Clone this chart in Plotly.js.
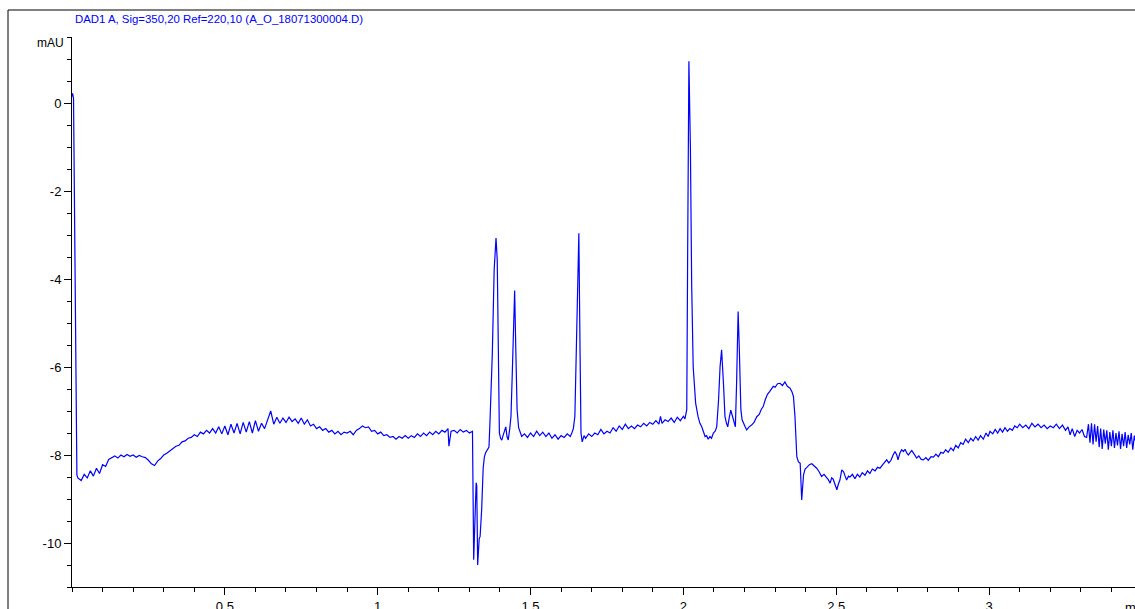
<!DOCTYPE html>
<html>
<head>
<meta charset="utf-8">
<script src="https://cdn.plot.ly/plotly-3.0.1.min.js"></script>
<style>
html,body{margin:0;padding:0;background:#fff;overflow:hidden;}
#chart{width:1135px;height:609px;}
</style>
</head>
<body>
<div id="chart"></div>
<script>
// Retention time (min)
const timeMin = [
0, 0.002, 0.005, 0.009, 0.013, 0.016, 0.019, 0.03, 0.04, 0.05,
0.06, 0.07, 0.08, 0.09, 0.10, 0.11, 0.12, 0.13, 0.14, 0.15,
0.16, 0.17, 0.18, 0.19, 0.20, 0.21, 0.22, 0.23, 0.24, 0.25,
0.26, 0.27, 0.28, 0.29, 0.30, 0.31, 0.32, 0.33, 0.34, 0.35,
0.36, 0.37, 0.38, 0.39, 0.40, 0.41, 0.42, 0.43, 0.44, 0.45,
0.46, 0.47, 0.48, 0.49, 0.50, 0.51, 0.52, 0.53, 0.54, 0.55,
0.56, 0.57, 0.58, 0.59, 0.60, 0.61, 0.62, 0.63, 0.64, 0.65,
0.66, 0.67, 0.68, 0.69, 0.70, 0.71, 0.72, 0.73, 0.74, 0.75,
0.76, 0.77, 0.78, 0.79, 0.80, 0.81, 0.82, 0.83, 0.84, 0.85,
0.86, 0.87, 0.88, 0.89, 0.90, 0.91, 0.92, 0.93, 0.94, 0.95,
0.96, 0.97, 0.98, 0.99, 1.00, 1.01, 1.02, 1.03, 1.04, 1.05,
1.06, 1.07, 1.08, 1.09, 1.10, 1.11, 1.12, 1.13, 1.14, 1.15,
1.16, 1.17, 1.18, 1.19, 1.20, 1.21, 1.22, 1.23, 1.233, 1.24,
1.25, 1.26, 1.27, 1.28, 1.29, 1.30, 1.31, 1.314, 1.322, 1.324,
1.327, 1.332, 1.335, 1.340, 1.345, 1.349, 1.353, 1.357, 1.361, 1.364,
1.367, 1.371, 1.375, 1.381, 1.387, 1.391, 1.395, 1.398, 1.402, 1.406,
1.41, 1.415, 1.419, 1.423, 1.427, 1.432, 1.436, 1.440, 1.444, 1.448,
1.452, 1.456, 1.461, 1.466, 1.471, 1.48, 1.49, 1.50, 1.51, 1.52,
1.53, 1.54, 1.55, 1.56, 1.57, 1.58, 1.59, 1.60, 1.61, 1.62,
1.63, 1.635, 1.64, 1.645, 1.651, 1.658, 1.662, 1.665, 1.669, 1.675,
1.68, 1.69, 1.70, 1.71, 1.72, 1.73, 1.74, 1.75, 1.76, 1.77,
1.78, 1.79, 1.80, 1.81, 1.82, 1.83, 1.84, 1.85, 1.86, 1.87,
1.88, 1.89, 1.90, 1.91, 1.92, 1.925, 1.93, 1.94, 1.95, 1.96,
1.97, 1.98, 1.99, 2.00, 2.005, 2.011, 2.014, 2.018, 2.023, 2.027,
2.032, 2.040, 2.048, 2.054, 2.060, 2.065, 2.071, 2.076, 2.081, 2.087,
2.092, 2.098, 2.104, 2.109, 2.115, 2.120, 2.125, 2.131, 2.136, 2.141,
2.145, 2.150, 2.155, 2.161, 2.166, 2.170, 2.174, 2.179, 2.183, 2.188,
2.192, 2.196, 2.202, 2.207, 2.215, 2.223, 2.231, 2.240, 2.248, 2.255,
2.261, 2.268, 2.275, 2.282, 2.288, 2.294, 2.300, 2.308, 2.316, 2.324,
2.332, 2.340, 2.349, 2.355, 2.360, 2.365, 2.371, 2.376, 2.382, 2.387,
2.393, 2.398, 2.404, 2.412, 2.420, 2.428, 2.436, 2.444, 2.452, 2.460,
2.468, 2.474, 2.480, 2.485, 2.490, 2.496, 2.502, 2.507, 2.512, 2.518,
2.524, 2.529, 2.534, 2.540, 2.545, 2.553, 2.561, 2.569, 2.577, 2.585,
2.594, 2.602, 2.610, 2.618, 2.627, 2.635, 2.643, 2.654, 2.665, 2.672,
2.679, 2.686, 2.692, 2.698, 2.702, 2.708, 2.714, 2.720, 2.725, 2.731,
2.736, 2.742, 2.747, 2.755, 2.763, 2.770, 2.778, 2.785, 2.793, 2.801,
2.810, 2.818, 2.826, 2.834, 2.842, 2.850, 2.858, 2.866, 2.875, 2.883,
2.891, 2.899, 2.907, 2.915, 2.923, 2.932, 2.940, 2.948, 2.956, 2.964,
2.972, 2.981, 2.990, 2.997, 3.003, 3.012, 3.020, 3.028, 3.036, 3.044,
3.052, 3.060, 3.068, 3.076, 3.084, 3.092, 3.100, 3.110, 3.120, 3.130,
3.140, 3.150, 3.160, 3.170, 3.180, 3.190, 3.200, 3.210, 3.220, 3.230,
3.240, 3.250, 3.258, 3.265, 3.272, 3.280, 3.288, 3.296, 3.304, 3.312,
3.319, 3.325, 3.330, 3.335, 3.340, 3.345, 3.350, 3.355, 3.360, 3.365,
3.370, 3.375, 3.380, 3.385, 3.390, 3.395, 3.400, 3.405, 3.410, 3.415,
3.420, 3.425, 3.430, 3.435, 3.440, 3.445, 3.450, 3.455, 3.460, 3.465,
3.470, 3.475, 3.480
];

// Detector signal (mAU)
const signalMAU = [
0.15, 0.22, 0.10, -3.0, -7.5, -8.45, -8.52, -8.58, -8.44, -8.52,
-8.36, -8.48, -8.30, -8.42, -8.22, -8.26, -8.10, -8.06, -8.02, -8.07,
-8.00, -8.04, -7.99, -8.03, -8.00, -8.05, -8.01, -8.04, -8.06, -8.12,
-8.20, -8.24, -8.14, -8.08, -8.00, -7.96, -7.90, -7.86, -7.80, -7.78,
-7.70, -7.68, -7.62, -7.60, -7.54, -7.58, -7.48, -7.52, -7.44, -7.50,
-7.40, -7.50, -7.36, -7.52, -7.34, -7.54, -7.30, -7.50, -7.28, -7.52,
-7.26, -7.48, -7.24, -7.50, -7.22, -7.46, -7.28, -7.40, -7.20, -7.00,
-7.30, -7.14, -7.28, -7.16, -7.26, -7.14, -7.24, -7.18, -7.28, -7.16,
-7.30, -7.20, -7.34, -7.30, -7.40, -7.36, -7.44, -7.40, -7.48, -7.44,
-7.52, -7.46, -7.54, -7.48, -7.50, -7.46, -7.54, -7.44, -7.40, -7.34,
-7.38, -7.36, -7.46, -7.44, -7.52, -7.48, -7.56, -7.54, -7.60, -7.58,
-7.64, -7.58, -7.62, -7.56, -7.62, -7.56, -7.60, -7.52, -7.58, -7.50,
-7.56, -7.48, -7.54, -7.46, -7.52, -7.44, -7.48, -7.40, -7.80, -7.46,
-7.44, -7.50, -7.42, -7.48, -7.44, -7.50, -7.46, -10.38, -8.63, -8.70,
-10.5, -9.9, -9.85, -9.25, -8.3, -8.04, -7.95, -7.90, -7.88, -7.82,
-7.3, -6.6, -5.68, -3.79, -3.07, -3.56, -6.44, -7.5, -7.62, -7.66,
-7.56, -7.46, -7.36, -7.58, -7.66, -7.40, -7.12, -6.2, -4.93, -4.26,
-5.68, -6.97, -7.38, -7.50, -7.58, -7.52, -7.60, -7.50, -7.58, -7.46,
-7.56, -7.48, -7.58, -7.50, -7.62, -7.54, -7.64, -7.56, -7.60, -7.52,
-7.58, -7.50, -7.40, -7.12, -4.93, -2.96, -5.68, -7.5, -7.70, -7.56,
-7.62, -7.52, -7.58, -7.50, -7.54, -7.42, -7.52, -7.46, -7.50, -7.38,
-7.46, -7.34, -7.42, -7.30, -7.40, -7.34, -7.40, -7.32, -7.36, -7.28,
-7.34, -7.26, -7.30, -7.22, -7.30, -7.12, -7.28, -7.20, -7.24, -7.16,
-7.26, -7.14, -7.22, -7.12, -7.18, -6.97, -3.33, 0.95, -1.06, -4.09,
-5.99, -6.82, -7.13, -7.28, -7.36, -7.46, -7.58, -7.56, -7.64, -7.58,
-7.62, -7.50, -7.46, -7.36, -6.75, -5.99, -5.61, -6.37, -7.13, -7.28,
-7.36, -7.15, -6.98, -7.13, -7.24, -7.36, -6.37, -4.74, -5.61, -6.97,
-7.20, -7.28, -7.36, -7.43, -7.36, -7.32, -7.26, -7.13, -7.08, -6.96,
-6.90, -6.74, -6.62, -6.56, -6.50, -6.44, -6.46, -6.38, -6.37, -6.42,
-6.34, -6.44, -6.48, -6.56, -6.67, -7.13, -8.04, -8.15, -8.19, -9.02,
-8.45, -8.32, -8.28, -8.22, -8.20, -8.24, -8.30, -8.38, -8.49, -8.44,
-8.50, -8.56, -8.64, -8.52, -8.55, -8.66, -8.79, -8.66, -8.57, -8.34,
-8.38, -8.48, -8.57, -8.48, -8.50, -8.44, -8.54, -8.44, -8.50, -8.40,
-8.46, -8.36, -8.42, -8.32, -8.36, -8.28, -8.30, -8.20, -8.11, -8.18,
-8.12, -8.00, -7.92, -8.00, -8.11, -7.96, -7.88, -7.92, -7.87, -7.96,
-8.00, -7.94, -7.90, -7.98, -8.07, -8.02, -8.10, -8.11, -8.06, -8.12,
-8.04, -8.05, -7.98, -8.04, -7.94, -7.96, -7.88, -7.94, -7.84, -7.90,
-7.78, -7.84, -7.72, -7.76, -7.64, -7.72, -7.62, -7.68, -7.58, -7.66,
-7.56, -7.64, -7.50, -7.58, -7.46, -7.52, -7.42, -7.50, -7.40, -7.48,
-7.38, -7.46, -7.40, -7.44, -7.34, -7.38, -7.30, -7.38, -7.32, -7.40,
-7.28, -7.36, -7.30, -7.38, -7.32, -7.40, -7.34, -7.38, -7.30, -7.40,
-7.32, -7.44, -7.36, -7.54, -7.40, -7.58, -7.44, -7.50, -7.42, -7.58,
-7.60, -7.30, -7.72, -7.28, -7.76, -7.30, -7.70, -7.34, -7.82, -7.40,
-7.86, -7.42, -7.74, -7.44, -7.88, -7.48, -7.80, -7.44, -7.84, -7.50,
-7.78, -7.46, -7.86, -7.52, -7.80, -7.48, -7.84, -7.54, -7.76, -7.50,
-7.88, -7.56, -7.72
];

const xTickVals = [0.5, 1, 1.5, 2, 2.5, 3];
const xTickText = ["0.5", "1", "1.5", "2", "2.5", "3"];
const yTickVals = [-10, -8, -6, -4, -2, 0];
const yTickText = ["-10", "-8", "-6", "-4", "-2", "0"];
const signalTitle = "DAD1 A, Sig=350,20 Ref=220,10 (A_O_18071300004.D)";
const yUnit = "mAU";
const xUnit = "min";

const W = 1135, H = 609;
const mL = 72, mR = 0, mT = 37, mB = 22;
const pw = W - mL - mR, ph = H - mT - mB;
const px = v => (v - mL) / pw;          // pixel x -> paper x
const py = v => (H - mB - v) / ph;      // pixel y -> paper y

const trace = {
  x: timeMin, y: signalMAU, type: 'scatter', mode: 'lines',
  line: {color: 'rgb(0,0,255)', width: 1.2},
  hoverinfo: 'x+y', showlegend: false
};

const axisFont = {family: 'Liberation Sans, Arial, sans-serif', size: 13, color: '#000'};

const layout = {
  width: W, height: H,
  margin: {l: mL, r: mR, t: mT, b: mB, pad: 0},
  paper_bgcolor: '#fff', plot_bgcolor: '#fff',
  showlegend: false,
  font: axisFont,
  xaxis: {
    range: [0, (W - mL) / 305.7],
    tickmode: 'array', tickvals: xTickVals, ticktext: xTickText,
    ticks: 'outside', ticklen: 7, tickwidth: 1, tickcolor: '#000',
    showline: true, linecolor: '#000', linewidth: 1,
    showgrid: false, zeroline: false, tickfont: axisFont,
    minor: {tick0: 0, dtick: 0.1, ticks: 'outside', ticklen: 4, tickcolor: '#000', tickwidth: 1, showgrid: false}
  },
  yaxis: {
    range: [-11, 1.5],
    tickmode: 'array', tickvals: yTickVals, ticktext: yTickText,
    ticks: 'outside', ticklen: 7, tickwidth: 1, tickcolor: '#000',
    showline: true, linecolor: '#000', linewidth: 1,
    showgrid: false, zeroline: false, tickfont: axisFont,
    minor: {tick0: 0, dtick: 0.5, ticks: 'outside', ticklen: 4, tickcolor: '#000', tickwidth: 1, showgrid: false}
  },
  shapes: [
    {type: 'line', xref: 'paper', yref: 'paper', x0: px(8), x1: px(8), y0: py(10), y1: py(640), line: {color: '#000', width: 1}},
    {type: 'line', xref: 'paper', yref: 'paper', x0: px(8), x1: px(1200), y0: py(10), y1: py(10), line: {color: '#000', width: 1}}
  ],
  annotations: [
    {text: signalTitle, xref: 'paper', yref: 'paper', x: px(218.5), y: py(19), xanchor: 'center', yanchor: 'middle', showarrow: false,
     font: {family: 'Liberation Sans, Arial, sans-serif', size: 11.4, color: 'rgb(0,0,255)'}},
    {text: yUnit, xref: 'paper', yref: 'paper', x: px(50), y: py(43), xanchor: 'center', yanchor: 'middle', showarrow: false,
     font: {family: 'Liberation Sans, Arial, sans-serif', size: 12, color: '#000'}},
    {text: xUnit, xref: 'paper', yref: 'paper', x: px(1123), y: py(598), xanchor: 'left', yanchor: 'top', showarrow: false,
     font: {family: 'Liberation Sans, Arial, sans-serif', size: 13, color: '#000'}}
  ]
};

Plotly.newPlot('chart', [trace], layout, {staticPlot: true, displayModeBar: false});
</script>
</body>
</html>
